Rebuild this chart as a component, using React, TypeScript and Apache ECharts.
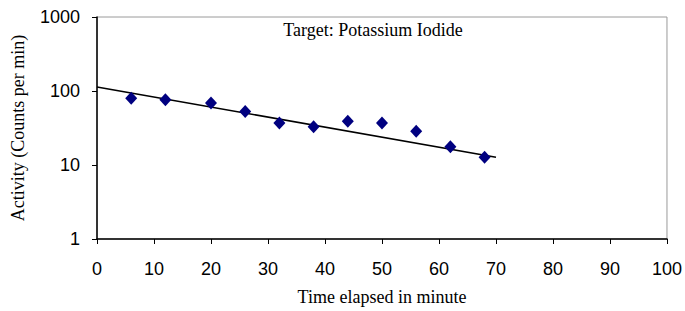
import React, { useEffect, useRef } from "react";
import * as echarts from "echarts";

const times = [6, 12, 20, 26, 32, 38, 44, 50, 56, 62, 68];
const activity = [80, 76, 69, 53, 37, 33, 39, 37, 28.5, 17.7, 12.7];
const trendTimes = [0, 70];
const trendValues = [113.5, 12.7];
const xTicks = [0, 10, 20, 30, 40, 50, 60, 70, 80, 90, 100];
const yTicks = [1, 10, 100, 1000];

export default function App() {
  const ref = useRef<HTMLDivElement>(null);
  useEffect(() => {
    if (!ref.current) return;
    const chart = echarts.init(ref.current, null, { renderer: "svg" });
    chart.setOption({
      animation: false,
      backgroundColor: "#ffffff",
      title: {
        text: "Target: Potassium Iodide",
        left: 368,
        top: 16,
        textAlign: "center",
        textStyle: { fontFamily: "Liberation Serif", fontSize: 18, fontWeight: "normal", color: "#000" },
      },
      grid: {
        left: 97,
        right: 15,
        top: 17,
        bottom: 71,
        show: true,
        borderColor: "#9a9a9a",
        borderWidth: 1,
      },
      xAxis: {
        type: "value",
        min: xTicks[0],
        max: xTicks[xTicks.length - 1],
        interval: 10,
        name: "Time elapsed in minute",
        nameLocation: "middle",
        nameGap: 49,
        nameTextStyle: { fontFamily: "Liberation Serif", fontSize: 18, color: "#000" },
        axisLine: { lineStyle: { color: "#000", width: 1.5 } },
        axisTick: { show: true, length: 5, lineStyle: { color: "#000" } },
        axisLabel: { margin: 21, fontFamily: "Liberation Sans", fontSize: 18, color: "#000" },
        splitLine: { show: false },
      },
      yAxis: {
        type: "log",
        logBase: 10,
        min: yTicks[0],
        max: yTicks[yTicks.length - 1],
        name: "Activity (Counts per min)",
        nameLocation: "middle",
        nameGap: 70,
        nameRotate: 90,
        nameTextStyle: { fontFamily: "Liberation Serif", fontSize: 18, color: "#000" },
        axisLine: { show: true, lineStyle: { color: "#000", width: 1.5 } },
        axisTick: { show: true, length: 5, lineStyle: { color: "#000" } },
        axisLabel: {
          margin: 17,
          fontFamily: "Liberation Sans",
          fontSize: 18,
          color: "#000",
          formatter: (v: number) => String(Math.round(v)),
        },
        splitLine: { show: false },
        minorTick: { show: false },
      },
      series: [
        {
          type: "line",
          data: trendTimes.map((t, i) => [t, trendValues[i]]),
          showSymbol: false,
          lineStyle: { color: "#000", width: 1.5 },
          z: 2,
        },
        {
          type: "scatter",
          data: times.map((t, i) => [t, activity[i]]),
          symbol: "diamond",
          symbolSize: [12, 13],
          itemStyle: { color: "#000080", opacity: 1 },
          z: 3,
        },
      ],
    });
    return () => chart.dispose();
  }, []);
  return <div ref={ref} style={{ width: 685, height: 311, position: "absolute", left: 0, top: 0 }} />;
}
